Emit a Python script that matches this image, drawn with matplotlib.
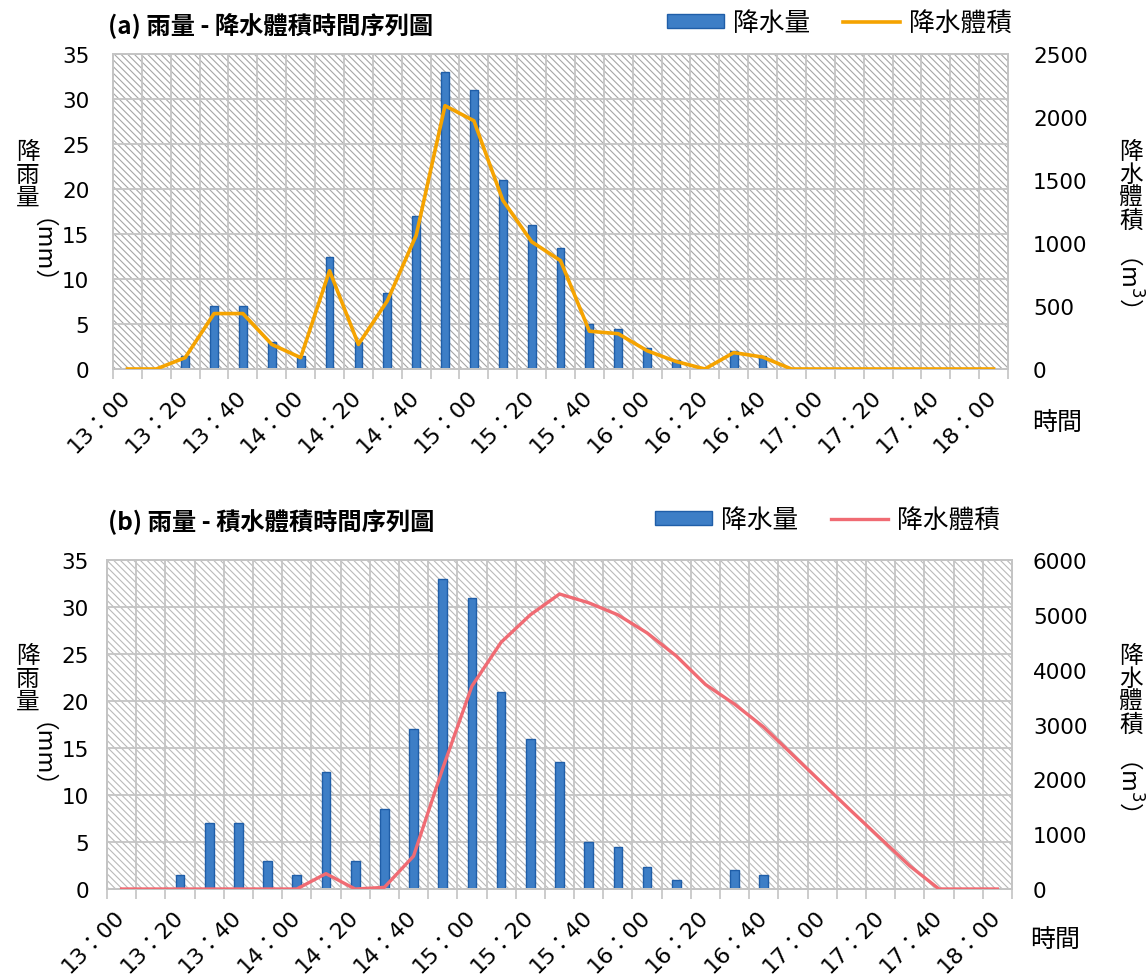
import matplotlib.pyplot as plt
from matplotlib.patches import Rectangle

plt.rcParams['font.family'] = ['DejaVu Sans', 'Noto Sans CJK TC']
plt.rcParams['hatch.linewidth'] = 0.8

# 10-minute steps from 13:00 to 18:00
tick_labels = ['13：00', '13：20', '13：40', '14：00', '14：20', '14：40',
               '15：00', '15：20', '15：40', '16：00', '16：20', '16：40',
               '17：00', '17：20', '17：40', '18：00']

rain_mm = [0, 0, 1.5, 7, 7, 3, 1.5, 12.5, 3, 8.5, 17, 33, 31, 21, 16, 13.5,
           5, 4.5, 2.3, 1, 0, 2, 1.5, 0, 0, 0, 0, 0, 0, 0, 0]

# rainfall volume (m3)
vol_rain = [0, 0, 90, 440, 440, 195, 90, 780, 195, 540, 1060, 2090, 1970,
            1340, 1010, 860, 300, 280, 145, 60, 0, 130, 95, 0, 0, 0, 0, 0,
            0, 0, 0]

# ponding volume (m3)
vol_pond = [0, 0, 0, 0, 0, 0, 0, 280, 0, 30, 600, 2200, 3700, 4500, 5000,
            5380, 5220, 5000, 4670, 4250, 3730, 3370, 2950, 2440, 1930, 1420,
            920, 420, 0, 0, 0]

W, H = 1148, 978
GRID = '#c4c4c4'
BAR_FACE = '#3d7ec6'
BAR_EDGE = '#1f5ea8'
CJK = ['Noto Sans CJK TC']


def fx(x):
    return x / W


def fy(y):
    return 1 - y / H


def panel(rect, vol, vmax, vstep, line_color, hatch_color, bar_w, lw,
          lpad, rpad):
    ax = fig.add_axes(rect)
    n = len(rain_mm)
    x = list(range(n))
    ax.set_facecolor('white')
    ax.add_patch(Rectangle((0, 0), 1, 1, transform=ax.transAxes,
                           facecolor='none', edgecolor=hatch_color,
                           hatch='\\\\\\\\\\', linewidth=0, zorder=0))
    ax.set_axisbelow(True)
    bars = ax.bar(x, rain_mm, width=bar_w, color=BAR_FACE,
                  edgecolor=BAR_EDGE, linewidth=1, zorder=2)
    ax.set_xlim(-0.5, n - 0.5)
    ax.set_ylim(0, 35)
    ax.set_yticks(range(0, 36, 5))
    ax.set_xticks(range(0, n, 2))
    ax.set_xticklabels(tick_labels, rotation=45, ha='right', va='center',
                       rotation_mode='anchor')
    ax.set_xticks([i - 0.5 for i in range(n + 1)], minor=True)
    ax.grid(which='minor', axis='x', color=GRID, linewidth=1.3)
    ax.grid(which='major', axis='y', color=GRID, linewidth=1.3)
    ax.tick_params(axis='x', which='major', length=0, pad=17, labelsize=16)
    ax.tick_params(axis='x', which='minor', length=7, color=GRID, width=1.2)
    ax.tick_params(axis='y', length=0, pad=lpad, labelsize=15.5)
    for s in ax.spines.values():
        s.set_color(GRID)
        s.set_linewidth(1.3)

    ax2 = ax.twinx()
    line, = ax2.plot(x, vol, color=line_color, linewidth=lw, zorder=4)
    ax2.set_ylim(0, vmax)
    ax2.set_yticks(range(0, vmax + 1, vstep))
    ax2.tick_params(axis='y', length=0, pad=rpad, labelsize=15.5)
    for s in ax2.spines.values():
        s.set_color(GRID)
        s.set_linewidth(1.3)
    return ax, bars, line


fig = plt.figure(figsize=(W / 100, H / 100), dpi=100)

# --- (a) rainfall vs rainfall volume ---
ax_a, bars_a, line_a = panel([fx(113), fy(370), (1008 - 113) / W, (370 - 55) / H],
                             vol_rain, 2500, 500, '#f5a300', '#a6a6a6', 0.27, 2.6,
                             17, 18)
fig.text(fx(108), fy(25), '(a) 雨量 - 降水體積時間序列圖', fontsize=17.5,
         fontweight='bold', va='center', family=CJK)
fig.legend([bars_a, line_a], ['降水量', '降水體積'], loc='center left',
           bbox_to_anchor=(fx(667), fy(24)), ncol=2, frameon=False,
           handlelength=2.2, handleheight=0.5,
           handletextpad=0.35, columnspacing=1.3, borderpad=0,
           borderaxespad=0, prop={'family': CJK, 'size': 18.5})

# --- (b) rainfall vs ponding volume ---
ax_b, bars_b, line_b = panel([fx(107), fy(890), (1012 - 107) / W, (890 - 561) / H],
                             vol_pond, 6000, 1000, '#f06b73', '#bababa', 0.3, 2.4,
                             13, 15)
fig.text(fx(108), fy(522), '(b) 雨量 - 積水體積時間序列圖', fontsize=17.5,
         fontweight='bold', va='center', family=CJK)
fig.legend([bars_b, line_b], ['降水量', '降水體積'], loc='center left',
           bbox_to_anchor=(fx(655), fy(521)), ncol=2, frameon=False,
           handlelength=2.2, handleheight=0.5,
           handletextpad=0.35, columnspacing=1.3, borderpad=0,
           borderaxespad=0, prop={'family': CJK, 'size': 18.5})

# axis titles, CJK stacked upright with the unit turned sideways
for x0, y0, chars, unit in [(28, 141, '降\n雨\n量', '（mm）'),
                            (1131, 141, '降\n水\n體\n積', '（m$^3$）'),
                            (28, 645, '降\n雨\n量', '（mm）'),
                            (1131, 645, '降\n水\n體\n積', '（m$^3$）')]:
    fig.text(fx(x0), fy(y0), chars, fontsize=17, ha='center', va='top',
             linespacing=1.0, family=CJK)
    n = chars.count('\n') + 1
    fig.text(fx(x0), fy(y0 + n * 23.6 + 6), unit, fontsize=17, ha='center',
             va='top', rotation=-90, family=CJK)

fig.text(fx(1057), fy(423), '時間', fontsize=18, ha='center', va='center',
         family=CJK)
fig.text(fx(1055), fy(940), '時間', fontsize=18, ha='center', va='center',
         family=CJK)

fig.savefig('out.png', dpi=100)
